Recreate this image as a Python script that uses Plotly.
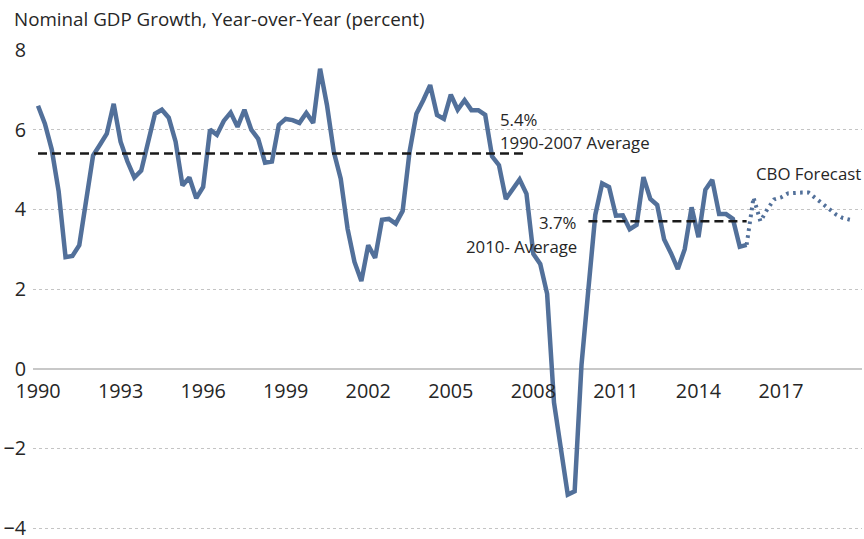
import plotly.graph_objects as go

# ---------------- data ----------------
start_year = 1990
# Nominal GDP growth, year-over-year (%), quarterly 1990Q1 .. 2015Q4
actual = [
    6.6, 6.15, 5.5, 4.45,   2.8, 2.83, 3.1, 4.2,    5.35, 5.62, 5.9, 6.65,
    5.7, 5.2, 4.8, 4.97,    5.75, 6.4, 6.5, 6.3,    5.7, 4.6, 4.8, 4.28,
    4.56, 6.0, 5.87, 6.22,  6.43, 6.07, 6.5, 6.0,   5.77, 5.17, 5.2, 6.12,
    6.27, 6.24, 6.17, 6.42, 6.17, 7.53, 6.62, 5.44, 4.77, 3.51, 2.68, 2.2,
    3.1, 2.78, 3.74, 3.76,  3.64, 3.96, 5.44, 6.4,  6.74, 7.12, 6.37, 6.27,
    6.88, 6.5, 6.74, 6.49,  6.49, 6.37, 5.33, 5.11, 4.26, 4.5, 4.75, 4.39,
    2.88, 2.63, 1.88, -0.85, -2.0, -3.16, -3.08, 0.1, 2.0, 3.86, 4.65, 4.56,
    3.84, 3.85, 3.5, 3.61,  4.81, 4.26, 4.11, 3.25, 2.9, 2.5, 3.0, 4.05,
    3.3, 4.49, 4.74, 3.88,  3.88, 3.76, 3.06, 3.11,
]
# CBO forecast, 2015Q4 .. 2019Q3
forecast = [3.11, 4.3, 3.7, 4.0, 4.25, 4.3, 4.4, 4.42, 4.42, 4.42, 4.28,
            4.12, 3.98, 3.87, 3.78, 3.74]

avg_1990_2007 = 5.4
avg_2010_on = 3.7
avg1_span = ("1990Q1", "2007Q4")
avg2_span = ("2010Q1", "2015Q4")

tick_years = [1990, 1993, 1996, 1999, 2002, 2005, 2008, 2011, 2014, 2017]
tick_labels = [str(y) for y in tick_years]
y_ticks = [-4, -2, 0, 2, 4, 6, 8]


def q_labels(first_year, first_q, n):
    out = []
    y, q = first_year, first_q
    for _ in range(n):
        out.append(f"{y}Q{q}")
        q += 1
        if q > 4:
            q, y = 1, y + 1
    return out


def qpos(label):
    y, q = label.split("Q")
    return int(y) + (int(q) - 1) / 4


actual_q = q_labels(start_year, 1, len(actual))
forecast_q = q_labels(2015, 4, len(forecast))

# ---------------- figure ----------------
LINE = "#52709a"
FONT = "Open Sans"
TXT = "#262626"
W, H = 864, 539
Y0, Y1 = -4.2, 8.0   # plot area: 8 at y=50px, -4 at y=528px

fig = go.Figure()

fig.add_trace(go.Scatter(
    x=[qpos(q) for q in forecast_q], y=forecast, mode="lines",
    line=dict(color=LINE, width=4, dash="2.6px,4.4px"), hoverinfo="skip"))

fig.add_trace(go.Scatter(
    x=[qpos(q) for q in actual_q], y=actual, mode="lines",
    line=dict(color=LINE, width=4.5), hoverinfo="skip"))

for (a, b), v in ((avg1_span, avg_1990_2007), (avg2_span, avg_2010_on)):
    fig.add_trace(go.Scatter(
        x=[qpos(a), qpos(b)], y=[v, v], mode="lines",
        line=dict(color="#1a1a1a", width=2.5, dash="9px,5px"), hoverinfo="skip"))

ann_font = dict(family=FONT, size=16.8, color=TXT)
fig.add_annotation(x=2006.86, y=6.19, text=f"{avg_1990_2007}%", showarrow=False,
                   xanchor="left", yanchor="middle", xshift=-4, yshift=3, font=ann_font)
fig.add_annotation(x=2006.86, y=5.61, text="1990-2007 Average", showarrow=False,
                   xanchor="left", yanchor="middle", xshift=-4, yshift=3, font=ann_font)
fig.add_annotation(x=2009.66, y=3.63, text=f"{avg_2010_on}%", showarrow=False,
                   xanchor="right", yanchor="middle", yshift=2, font=ann_font)
fig.add_annotation(x=2009.66, y=3.03, text="2010- Average", showarrow=False,
                   xanchor="right", yanchor="middle", yshift=1, font=ann_font)
fig.add_annotation(x=2016.13, y=4.84, text="CBO Forecast", showarrow=False,
                   xanchor="left", yanchor="middle", xshift=-3, yshift=2, font=ann_font)

fig.update_layout(
    width=W, height=H,
    margin=dict(l=33, r=2, t=50, b=3),
    paper_bgcolor="white", plot_bgcolor="white",
    showlegend=False,
    font=dict(family=FONT, color=TXT),
    title=dict(text="Nominal GDP Growth, Year-over-Year (percent)",
               x=14 / W, xanchor="left", y=1 - 19 / H, yanchor="middle",
               font=dict(family=FONT, size=18.8, color=TXT)),
    xaxis=dict(range=[1989.818, 2019.942], tickvals=tick_years, ticktext=tick_labels,
               showgrid=False, zeroline=False, showline=False, ticks="",
               anchor="free", position=(0 - Y0) / (Y1 - Y0),
               tickfont=dict(family=FONT, size=19.8, color=TXT),
               ticklabelstandoff=9),
    yaxis=dict(range=[Y0, Y1], tickvals=y_ticks, showgrid=True,
               gridcolor="#c4c4c4", gridwidth=1, griddash="dot",
               zeroline=True, zerolinecolor="#c8c8c8", zerolinewidth=1.5,
               ticks="", tickfont=dict(family=FONT, size=19.8, color=TXT),
               ticklabelstandoff=6, ticklabeloverflow="allow", automargin=False),
)

# the page's default 8px body margin would shift and clip the fixed-size figure
fig.write_html("out.html", config={"displayModeBar": False},
               post_script="document.body.style.margin='0px';")
